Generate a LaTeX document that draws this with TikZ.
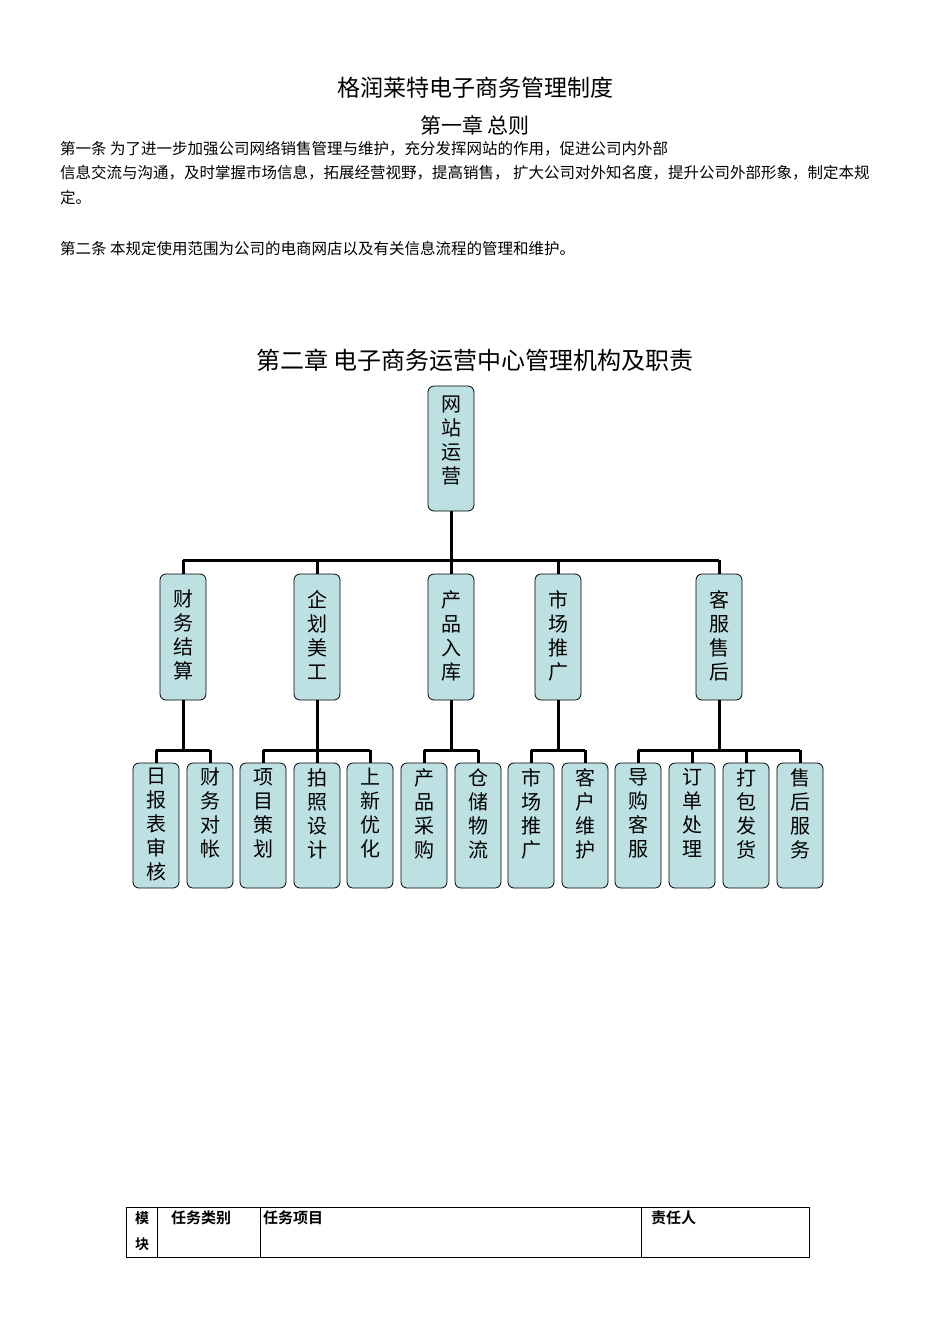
\documentclass[tikz,border=0pt]{standalone}
\usepackage{fontspec}
\newfontfamily\cjk{Noto Sans CJK SC}
\newfontfamily\cjkb{Noto Sans CJK SC}[BoldFont={* Bold}]
\begin{document}
\begin{tikzpicture}[x=1pt,y=-1pt,
  box/.style={draw=black,line width=0.8pt,fill={rgb,255:red,189;green,224;blue,227},rounded corners=6pt},
  lab/.style={anchor=north,font=\cjk\fontsize{20}{24}\selectfont,inner sep=0pt,align=center},
  con/.style={line width=3pt},
  body/.style={anchor=west,font=\cjk\fontsize{15.5}{18}\selectfont,inner sep=0pt}]
\useasboundingbox (0,0) rectangle (950,1344);
\node[font=\cjk\fontsize{23}{26}\selectfont] (t1) at (475,88) {格润莱特电子商务管理制度};
\node[font=\cjk\fontsize{21}{24}\selectfont] (t2) at (475,125) {第一章 总则};
\node[body] (p1) at (60,149) {第一条 为了进一步加强公司网络销售管理与维护，充分发挥网站的作用，促进公司内外部};
\node[body] (p2) at (60,173) {信息交流与沟通，及时掌握市场信息，拓展经营视野，提高销售， 扩大公司对外知名度，提升公司外部形象，制定本规};
\node[body] (p3) at (60,198) {定。};
\node[body] (p4) at (60,249) {第二条 本规定使用范围为公司的电商网店以及有关信息流程的管理和维护。};
\node[font=\cjk\fontsize{24}{28}\selectfont] (t3) at (475,360) {第二章 电子商务运营中心管理机构及职责};
% top
\draw[box] (428,386) rectangle (474,511);
\node[lab] (top) at (451,396) {网\\站\\运\\营};
\coordinate (topb) at (451,511);
\coordinate (bar) at (451,560);
\draw[con] (topb) -- (bar);
\draw[con] (183,560) -- (719,560);
% middle
\foreach \x/\t in {183/财\\务\\结\\算,317/企\\划\\美\\工,451/产\\品\\入\\库,558/市\\场\\推\\广,719/客\\服\\售\\后}{
  \draw[con] (\x,560) -- (\x,574);
  \draw[box] (\x-23,574) rectangle (\x+23,700);
  \node[lab] at (\x,590) {\t};
  \draw[con] (\x,700) -- (\x,750);
}
% bottom bars
\draw[con] (156,750) -- (210,750);
\draw[con] (263,750) -- (370,750);
\draw[con] (424,750) -- (478,750);
\draw[con] (531,750) -- (585,750);
\draw[con] (638,750) -- (800,750);
\foreach \x/\t in {156/日\\报\\表\\审\\核,210/财\\务\\对\\帐,263/项\\目\\策\\划,317/拍\\照\\设\\计,370/上\\新\\优\\化,424/产\\品\\采\\购,478/仓\\储\\物\\流,531/市\\场\\推\\广,585/客\\户\\维\\护,638/导\\购\\客\\服,692/订\\单\\处\\理,746/打\\包\\发\\货,800/售\\后\\服\\务}{
  \draw[con] (\x,750) -- (\x,763);
  \draw[box] (\x-23,763) rectangle (\x+23,888);
  \node[lab] at (\x,768) {\t};
}
% table
\draw[line width=0.6pt] (126,1207) rectangle (809,1257);
\draw[line width=0.6pt] (157,1207) -- (157,1257) (260,1207) -- (260,1257) (641,1207) -- (641,1257);
\begin{scope}[every node/.style={font=\cjkb\bfseries\fontsize{15}{26}\selectfont,inner sep=0pt,anchor=north west}]
\node[align=left,font=\cjkb\bfseries\fontsize{14}{26}\selectfont] (m1) at (135,1211) {模\\块};
\node (c2) at (171,1211) {任务类别};
\node (c3) at (263,1211) {任务项目};
\node (c4) at (651,1211) {责任人};
\end{scope}
\end{tikzpicture}
\end{document}
